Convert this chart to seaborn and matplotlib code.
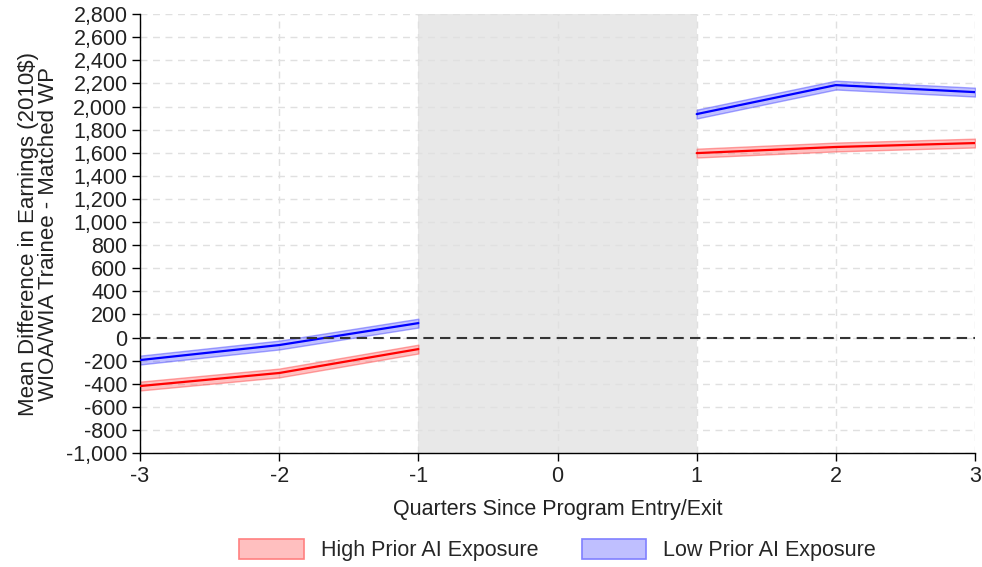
import matplotlib
matplotlib.use("Agg")
import matplotlib.pyplot as plt
import matplotlib.ticker as mticker
from matplotlib.patches import Patch
import seaborn as sns
import pandas as pd
import numpy as np

quarters = [-3, -2, -1, 1, 2, 3]
periods = ["pre", "pre", "pre", "post", "post", "post"]
high_vals = [-420, -307, -100, 1597, 1650, 1684]
low_vals = [-195, -65, 125, 1935, 2186, 2125]
high_ci = [38, 38, 38, 38, 38, 38]
low_ci = [38, 38, 38, 38, 38, 38]
groups = ["High Prior AI Exposure", "Low Prior AI Exposure"]
y_ticks = list(range(-1000, 2801, 200))
x_ticks = [-3, -2, -1, 0, 1, 2, 3]

sns.set_theme(style="white")
plt.rcParams['font.family'] = ['Liberation Sans', 'DejaVu Sans']

rows = []
for g, vals, ci in [(groups[0], high_vals, high_ci), (groups[1], low_vals, low_ci)]:
    for q, p, v, c in zip(quarters, periods, vals, ci):
        rows.append({"quarter": q, "period": p, "group": g, "value": v,
                     "lo": v - c, "hi": v + c})
df = pd.DataFrame(rows)

line_colors = {groups[0]: "#ff0000", groups[1]: "#0000ff"}
band_fill = {groups[0]: (1.0, 0.4, 0.4, 0.4), groups[1]: (0.4, 0.4, 1.0, 0.4)}
band_edge = {groups[0]: (1.0, 0.3, 0.3, 0.5), groups[1]: (0.3, 0.3, 1.0, 0.5)}

fig = plt.figure(figsize=(9.82, 5.67), dpi=100)
ax = fig.add_axes([0.1426, 0.201, 0.8503, 0.774])

ax.axvspan(-1, 1, color="#e8e8e8", zorder=0, lw=0)

for g in groups:
    for p in ["pre", "post"]:
        sub = df[(df.group == g) & (df.period == p)]
        ax.fill_between(sub.quarter, sub.lo, sub.hi, facecolor=band_fill[g],
                        lw=1.0, edgecolor=band_edge[g], zorder=2)

sns.lineplot(data=df, x="quarter", y="value", hue="group", units="period",
             estimator=None, palette=line_colors, lw=1.6, ax=ax, legend=False,
             zorder=3)

ax.axhline(0, color="#333333", ls=(0, (5, 3)), lw=1.5, zorder=4)

ax.set_xlim(-3, 3)
ax.set_ylim(-1000, 2800)
ax.set_xticks(x_ticks)
ax.set_yticks(y_ticks)
ax.yaxis.set_major_formatter(mticker.FuncFormatter(lambda v, p: f"{int(v):,}"))
ax.xaxis.set_major_formatter(mticker.FuncFormatter(lambda v, p: f"{int(v)}"))
ax.grid(True, color="#e0e0e0", ls=(0, (5, 4)), lw=1)
ax.set_axisbelow(True)
for s in ["top", "right"]:
    ax.spines[s].set_visible(False)
for s in ["left", "bottom"]:
    ax.spines[s].set_color("black")
    ax.spines[s].set_linewidth(1)
ax.tick_params(axis="both", which="major", direction="out", length=6, width=1,
               color="black", labelsize=15.5, labelcolor="#222222",
               bottom=True, left=True, pad=3)

ax.set_xlabel("Quarters Since Program Entry/Exit", fontsize=15.5, color="#222222", labelpad=9)
ax.set_ylabel("Mean Difference in Earnings (2010\\$)\nWIOA/WIA Trainee - Matched WP",
              fontsize=16, color="#222222", labelpad=5, linespacing=0.95)

handles = [Patch(facecolor="#ffbfbf", edgecolor="#ff8080", lw=1.2, label=groups[0]),
           Patch(facecolor="#bfbfff", edgecolor="#8080ff", lw=1.2, label=groups[1])]
fig.legend(handles=handles, loc="center", bbox_to_anchor=(0.568, 0.03), ncol=2,
           frameon=False, fontsize=15.5, handlelength=3.0, handleheight=1.1,
           columnspacing=2.0, handletextpad=0.8)

fig.savefig("out.png", dpi=100)
